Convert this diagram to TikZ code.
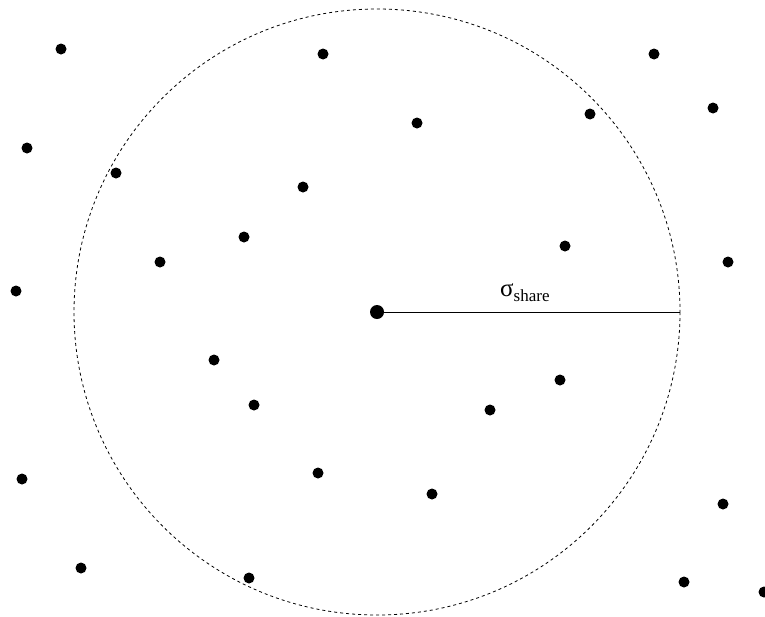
\documentclass[tikz,border=0pt]{standalone}
\usepackage{fontspec}
\setmainfont{Liberation Serif}
\begin{document}
\begin{tikzpicture}[x=1pt,y=-1pt,
  pt/.style={circle,fill=black,inner sep=0pt,minimum size=11pt},
  bigpt/.style={circle,fill=black,inner sep=0pt,minimum size=14pt},
  rim/.style={draw=black,line width=0.8pt,dash pattern=on 3pt off 3pt}]
\useasboundingbox (0,0) rectangle (765,616);
\draw[rim] (377,312) circle (303);
\node[bigpt] (c) at (377,312) {};
\coordinate (r) at (680,312);
\draw[line width=0.9pt] (c.center) -- (r);
\node[anchor=base west,inner sep=0pt] (lab) at (500,296) {\fontsize{25}{25}\selectfont σ\raisebox{-5pt}{\fontsize{17}{17}\selectfont share}};
\foreach \x/\y [count=\i] in {61/49,323/54,654/54,713/108,590/114,417/123,27/148,116/173,303/187,244/237,565/246,160/262,728/262,16/291,214/360,560/380,254/405,490/410,22/479,318/473,432/494,723/504,81/568,249/578,684/582,764/592}
  \node[pt] (p\i) at (\x,\y) {};
\end{tikzpicture}
\end{document}
